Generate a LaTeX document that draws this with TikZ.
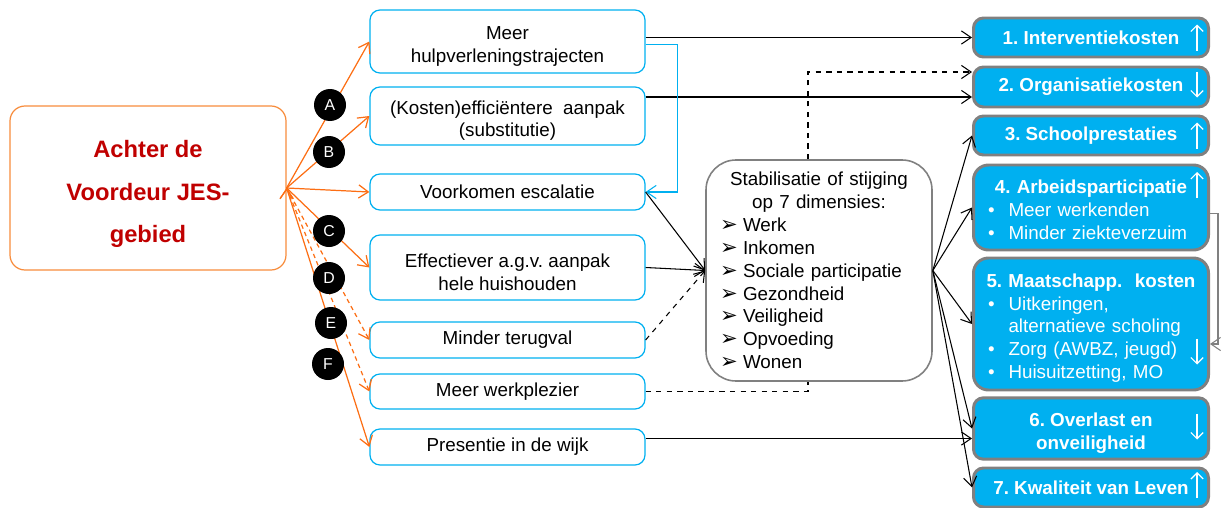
\documentclass[tikz,border=0pt]{standalone}
\usepackage{fontspec}
\setmainfont{Liberation Sans}
\newfontfamily\chevfont{DejaVu Sans}
\usetikzlibrary{arrows.meta,calc}
\frenchspacing

\definecolor{jesred}{RGB}{192,0,0}
\definecolor{jesorange}{RGB}{252,110,20}
\definecolor{boxorange}{RGB}{247,140,60}
\definecolor{jesblue}{RGB}{0,176,240}
\definecolor{jesgray}{RGB}{128,128,128}

\newcommand{\upgap}[1]{\rule{0pt}{#1}}
\newcommand{\outtitle}[1]{\noindent\makebox[\hsize][c]{\bfseries #1}}
\newcommand{\bulitem}[1]{\par\noindent\makebox[0.41cm][l]{\textbullet}#1}
\newcommand{\bulcont}[1]{\par\noindent\hspace{0.41cm}#1}
\newcommand{\dimitem}[1]{\par\noindent\makebox[0.46cm][l]{\chevfont\fontsize{12}{13}\selectfont ➢}#1}

\begin{document}
\begin{tikzpicture}[>={Straight Barb[length=5.5pt,width=7.5pt]}, line width=0.6pt, font=\fontsize{10.7}{13}\selectfont,
  start node/.style={draw=boxorange, rounded corners=0.3cm, line width=0.7pt, minimum width=5.52cm, minimum height=3.28cm, align=center, text=jesred, font=\fontsize{13.5}{24.4}\selectfont\bfseries},
  mid node/.style={draw=jesblue, rounded corners=0.2cm, line width=0.7pt, minimum width=5.5cm, inner sep=2pt, align=center},
  dim node/.style={draw=jesgray, rounded corners=0.6cm, line width=0.9pt, minimum width=4.52cm, minimum height=4.42cm, text width=3.96cm, inner xsep=0.28cm, align=left},
  out node/.style={draw=jesgray, fill=jesblue, rounded corners=0.2cm, line width=1.7pt, minimum width=4.7cm, text=white, font=\fontsize{10.7}{13}\selectfont\bfseries, align=center},
  out list/.style={out node, rounded corners=0.3cm, text width=4.12cm, inner xsep=0.29cm, align=left, font=\fontsize{10.7}{13}\selectfont},
  letter node/.style={circle, fill=black, text=white, minimum size=0.64cm, inner sep=0pt, font=\fontsize{9}{9}\selectfont},
  orange arrow/.style={->, draw=jesorange, line width=0.7pt},
  value arrow/.style={-{Straight Barb[length=3.5pt,width=7pt]}, draw=white, line width=0.7pt}]

  \useasboundingbox (0,0) rectangle (24.56,-10.16);

  \node[start node] (achter) at (2.96,-3.76) {\upgap{16.6pt}Achter de\\Voordeur JES-\\gebied};

  \node[mid node, minimum height=1.26cm] (meer) at (10.15,-0.83) {\upgap{13pt}Meer\\hulpverleningstrajecten};
  \node[mid node, minimum height=1.16cm] (kost) at (10.15,-2.32) {\upgap{13pt}(Kosten)efficiëntere\ \ aanpak\\(substitutie)};
  \node[mid node, minimum height=0.72cm] (voork) at (10.15,-3.84) {Voorkomen escalatie};
  \node[mid node, minimum height=1.30cm] (eff) at (10.15,-5.35) {\upgap{13pt}Effectiever a.g.v. aanpak\\hele huishouden};
  \node[mid node, minimum height=0.72cm] (mind) at (10.15,-6.80) {Minder terugval};
  \node[mid node, minimum height=0.70cm] (werk) at (10.15,-7.83) {Meer werkplezier};
  \node[mid node, minimum height=0.72cm] (pres) at (10.15,-8.94) {Presentie in de wijk};

  \node[dim node] (stab) at (16.38,-5.41) {{\centering Stabilisatie of stijging\par op 7 dimensies:\par}\dimitem{Werk}\dimitem{Inkomen}\dimitem{Sociale participatie}\dimitem{Gezondheid}\dimitem{Veiligheid}\dimitem{Opvoeding}\dimitem{Wonen}};

  \node[out node, minimum height=0.78cm] (o1) at (21.82,-0.75) {1. Interventiekosten};
  \node[out node, minimum height=0.80cm] (o2) at (21.82,-1.74) {2. Organisatiekosten};
  \node[out node, minimum height=0.78cm] (o3) at (21.82,-2.71) {3. Schoolprestaties};
  \node[out list, minimum height=1.70cm] (o4) at (21.82,-4.15) {\upgap{10pt}\outtitle{4. Arbeidsparticipatie}\bulitem{Meer werkenden}\bulitem{Minder ziekteverzuim}};
  \node[out list, minimum height=2.64cm] (o5) at (21.82,-6.48) {\upgap{12.4pt}\outtitle{5. Maatschapp.\ \ kosten}\bulitem{Uitkeringen,}\bulcont{alternatieve scholing}\bulitem{Zorg (AWBZ, jeugd)}\bulitem{Huisuitzetting, MO}};
  \node[out node, minimum height=1.14cm] (o6) at (21.82,-8.57) {\upgap{13pt}6. Overlast en\\onveiligheid};
  \node[out node, minimum height=0.78cm] (o7) at (21.82,-9.75) {7. Kwaliteit van Leven};

  % up / down in the outcome boxes
  \foreach \b/\dy/\s in {o1/0/1, o2/0.05/-1, o3/0/1, o4/0.45/1, o5/-0.55/-1, o6/0.04/-1, o7/0.05/1}
    \draw[value arrow] ($(\b.east)+(-0.26,{\dy-\s*0.26})$) -- ($(\b.east)+(-0.26,{\dy+\s*0.26})$);

  % from the left box
  \path[orange arrow]
       (achter.east) edge (meer.west)
       (achter.east) edge (kost.west)
       (achter.east) edge (voork.west)
       (achter.east) edge (eff.west)
       (achter.east) edge (pres.west);
  \path[orange arrow, dash pattern=on 2.5pt off 2pt]
       (achter.east) edge (mind.west)
       (achter.east) edge (werk.west);

  \coordinate (o2low) at ($(o2.west)+(0,-0.2)$);
  \coordinate (o2high) at ($(o2.west)+(0,0.3)$);
  \coordinate (o6low) at ($(o6.west)+(0,-0.2)$);
  \coordinate (stabtop) at ($(stab.north)+(-0.22,0)$);
  \coordinate (stabbot) at ($(stab.south)+(-0.22,0)$);

  \draw[->] (meer.east |- o1.west) -- (o1.west);
  \draw[->] (kost.east |- o2low) -- (o2low);
  \draw[->, dashed] (stabtop) |- (o2high);
  \draw[dashed] (werk.east) -| (stabbot);
  \draw[->, draw=jesblue] ($(meer.east)+(0,-0.06)$) -- ++(0.64,0) |- (voork.east);
  \draw[->] (pres.east |- o6low) -- (o6low);

  \path[->]
       (voork.east) edge (stab.west)
       (eff.east) edge (stab.west)
       (stab.east) edge (o3.west)
       (stab.east) edge (o4.west)
       (stab.east) edge (o5.west)
       (stab.east) edge (o6.west)
       (stab.east) edge (o7.west);
  \path[->, dashed] (mind.east) edge (stab.west);

  \draw[->, draw=jesgray] ($(o4.east)+(0,-0.12)$) -- ++(0.16,0) |- ($(o5.east)+(0,-0.4)$);

  \node[letter node] (la) at (6.60,-2.10) {A};
  \node[letter node] (lb) at (6.58,-3.04) {B};
  \node[letter node] (lc) at (6.58,-4.62) {C};
  \node[letter node] (ld) at (6.58,-5.56) {D};
  \node[letter node] (le) at (6.62,-6.46) {E};
  \node[letter node] (lf) at (6.56,-7.28) {F};
\end{tikzpicture}
\end{document}
